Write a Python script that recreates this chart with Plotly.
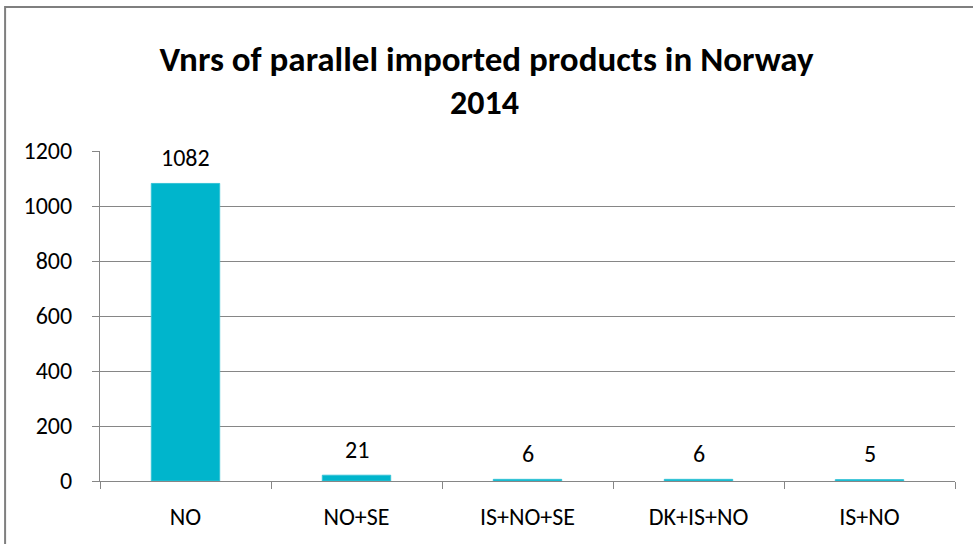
import plotly.graph_objects as go

categories = ["NO", "NO+SE", "IS+NO+SE", "DK+IS+NO", "IS+NO"]
counts = [1082, 21, 6, 6, 5]
y_ticks = [0, 200, 400, 600, 800, 1000, 1200]
title_line1 = "Vnrs of parallel imported products in Norway"
title_line2 = "2014"

FONT = "Carlito, Calibri, Liberation Sans, Arial, sans-serif"
GRID = "#868686"

fig = go.Figure()
fig.add_trace(
    go.Bar(
        x=categories,
        y=counts,
        marker={"color": "#00B5CC", "line": {"color": "#35C3D6", "width": 1}},
    )
)

# value labels above the bars
for cat, val in zip(categories, counts):
    fig.add_annotation(
        x=cat,
        y=val,
        text=str(val),
        showarrow=False,
        yanchor="middle",
        yshift=26,
        font={"size": 24, "family": FONT, "color": "#000000"},
    )

# second title line
fig.add_annotation(
    xref="paper",
    yref="paper",
    x=0.45,
    y=(481 - 102) / 330,
    text=f"<b>{title_line2}</b>",
    showarrow=False,
    xanchor="center",
    yanchor="middle",
    font={"size": 34, "family": FONT, "color": "#000000"},
)

fig.update_layout(
    width=973,
    height=544,
    margin={"l": 100, "r": 18, "t": 151, "b": 63},
    paper_bgcolor="white",
    plot_bgcolor="white",
    bargap=0.6,
    showlegend=False,
    font={"family": FONT, "size": 24, "color": "#000000"},
    title={
        "text": f"<b>{title_line1}</b>",
        "x": 0.5,
        "xanchor": "center",
        "y": 1 - 59 / 544,
        "yanchor": "middle",
        "font": {"size": 35, "family": FONT},
    },
    xaxis={
        "showline": True,
        "linecolor": GRID,
        "ticks": "outside",
        "tickson": "boundaries",
        "ticklen": 7,
        "tickcolor": GRID,
        "showgrid": False,
        "ticklabelstandoff": 14,
    },
    yaxis={
        "range": [0, 1200],
        "tickvals": y_ticks,
        "showline": True,
        "linecolor": GRID,
        "ticks": "outside",
        "ticklen": 7,
        "tickcolor": GRID,
        "gridcolor": GRID,
        "zeroline": False,
        "ticklabelstandoff": 15,
    },
    shapes=[
        {
            "type": "rect",
            "xref": "paper",
            "yref": "paper",
            "x0": -0.111,
            "x1": 1.2,
            "y0": -0.5,
            "y1": 1.436,
            "line": {"color": "#7F7F7F", "width": 2},
            "layer": "below",
        }
    ],
)

fig.write_html(
    "out.html",
    config={"displayModeBar": False},
    post_script="document.body.style.margin='0';",
)
